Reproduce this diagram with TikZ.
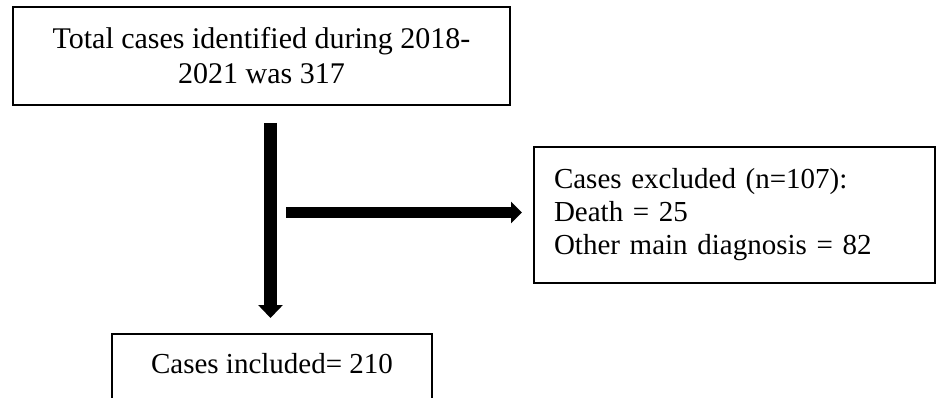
\documentclass[tikz,border=0pt]{standalone}
\usepackage{fontspec}
\setmainfont{Liberation Serif}
\usetikzlibrary{arrows.meta}

\begin{document}
\begin{tikzpicture}[x=1pt, y=-1pt]
	\tikzset{box/.style = {shape=rectangle, draw, line width=2pt, inner sep=0pt}}
	\tikzset{fatdown/.style = {line width=13pt, -{Triangle[length=13pt, width=24pt]}}}
	\tikzset{fatright/.style = {line width=11pt, -{Triangle[length=11pt, width=21pt]}}}
	\useasboundingbox (0, 0) rectangle (940, 398);
	\clip (0, 0) rectangle (940, 398);
	\node[box, minimum width=497pt, minimum height=98pt, align=center,
		font=\fontsize{30}{35}\selectfont] (total) at (261.5, 56)
		{Total cases identified during 2018-\\2021 was 317};
	\node[box, minimum width=401pt, minimum height=135pt, text width=361pt,
		inner xsep=20pt, align=left, font=\fontsize{29}{33}\selectfont] (excluded) at (734.5, 215)
		{Cases excluded (n=107):\\Death = 25\\Other main diagnosis = 82};
	\node[box, anchor=north, minimum width=320pt, inner ysep=19pt, text depth=30pt,
		font=\fontsize{29}{35}\selectfont] (included) at (272, 333)
		{Cases included= 210};
	\coordinate (trunk) at ([xshift=9pt]total.south);
	\coordinate (split) at (286, 212.5);
	\draw[fatdown, shorten <=17pt, shorten >=15pt] (trunk) to (trunk |- included.north);
	\draw[fatright, shorten >=11pt] (split) to (split -| excluded.west);
\end{tikzpicture}
\end{document}
